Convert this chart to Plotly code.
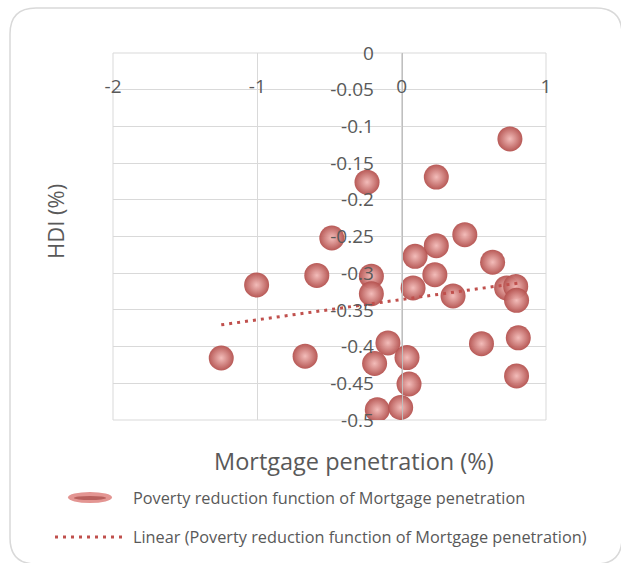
import numpy as np
import plotly.graph_objects as go

# Mortgage penetration (%) vs HDI (%) observations
mortgage_penetration = [
    0.75, -0.24, 0.24, -0.484, 0.4375, 0.24, 0.093, 0.63, -0.588, 0.23,
    -0.21, -1.005, 0.079, 0.727, 0.79, -0.21, 0.356, 0.796, -1.25, -0.669,
    -0.095, -0.1875, 0.037, 0.553, 0.808, 0.051, 0.796, -0.169, -0.007,
]
hdi = [
    -0.117, -0.176, -0.169, -0.252, -0.2475, -0.2625, -0.277, -0.285, -0.303, -0.302,
    -0.304, -0.316, -0.320, -0.320, -0.318, -0.328, -0.331, -0.337, -0.4155, -0.413,
    -0.395, -0.423, -0.415, -0.396, -0.388, -0.451, -0.440, -0.486, -0.483,
]

x_tick_vals = [-2, -1, 0, 1]
x_tick_text = ["-2", "-1", "0", "1"]
y_tick_vals = [0, -0.05, -0.1, -0.15, -0.2, -0.25, -0.3, -0.35, -0.4, -0.45, -0.5]
y_tick_text = ["0", "-0.05", "-0.1", "-0.15", "-0.2", "-0.25", "-0.3", "-0.35", "-0.4", "-0.45", "-0.5"]

series_name = "Poverty reduction function of Mortgage penetration"
trend_name = "Linear (Poverty reduction function of Mortgage penetration)"

FONT = "Open Sans"
TEXT = "#595959"
GRID = "#D9D9D9"
RED = "#C0504D"

W, H = 621, 563
M = dict(l=113, r=75, t=53, b=143)
PW = W - M["l"] - M["r"]
PH = H - M["t"] - M["b"]


def px(x):
    return (x - M["l"]) / PW


def py(y):
    return (H - M["b"] - y) / PH


# Least-squares trend line over the observed range
slope, intercept = np.polyfit(mortgage_penetration, hdi, 1)
tx = np.array([min(mortgage_penetration), max(mortgage_penetration)])
ty = slope * tx + intercept

fig = go.Figure()
fig.add_trace(go.Scatter(
    x=mortgage_penetration, y=hdi, mode="markers", name=series_name,
    marker=dict(size=25, color="#B4514E", opacity=0.95,
                gradient=dict(type="radial", color="#F2B9B6"),
                line=dict(width=0)),
    showlegend=False,
))
fig.add_trace(go.Scatter(
    x=tx, y=ty, mode="lines", name=trend_name,
    line=dict(color=RED, width=3, dash="3px,5px"),
    showlegend=False,
))

fig.update_xaxes(
    range=[-2, 1], tickvals=x_tick_vals, ticktext=x_tick_text,
    side="top", ticklabelposition="inside", ticklabeloverflow="allow",
    ticklabelstandoff=24, ticks="",
    showgrid=True, gridcolor=GRID, gridwidth=1, zeroline=False, showline=False,
    tickfont=dict(family=FONT, size=19, color=TEXT),
)
fig.update_yaxes(
    range=[-0.5, 0], tickvals=y_tick_vals, ticktext=y_tick_text,
    anchor="free", position=2 / 3, ticks="", ticklabelstandoff=24,
    showgrid=True, gridcolor=GRID, gridwidth=1, zeroline=False,
    showline=True, linecolor="#BFBFBF", linewidth=1,
    tickfont=dict(family=FONT, size=19, color=TEXT),
)

shapes = [
    # plot-area frame
    dict(type="rect", xref="paper", yref="paper", x0=0, y0=0, x1=1, y1=1,
         line=dict(color=GRID, width=1), layer="below"),
]

# rounded chart border
x0, y0, x1, y1, r = 10, 8, 622, 564, 26
path = (
    f"M {px(x0 + r)},{py(y0)} L {px(x1 - r)},{py(y0)} "
    f"Q {px(x1)},{py(y0)} {px(x1)},{py(y0 + r)} "
    f"L {px(x1)},{py(y1 - r)} Q {px(x1)},{py(y1)} {px(x1 - r)},{py(y1)} "
    f"L {px(x0 + r)},{py(y1)} Q {px(x0)},{py(y1)} {px(x0)},{py(y1 - r)} "
    f"L {px(x0)},{py(y0 + r)} Q {px(x0)},{py(y0)} {px(x0 + r)},{py(y0)} Z"
)
shapes.append(dict(type="path", xref="paper", yref="paper", path=path,
                   line=dict(color="#D9D9D9", width=1.5)))

# legend glyphs
shapes.append(dict(type="circle", xref="paper", yref="paper",
                   x0=px(68), x1=px(112), y0=py(503), y1=py(492),
                   fillcolor="#E39592", line=dict(width=0)))
shapes.append(dict(type="circle", xref="paper", yref="paper",
                   x0=px(74), x1=px(106), y0=py(500), y1=py(496),
                   fillcolor="#B8605D", line=dict(width=0)))
shapes.append(dict(type="line", xref="paper", yref="paper",
                   x0=px(55), x1=px(123), y0=py(537), y1=py(537),
                   line=dict(color=RED, width=3, dash="3px,5px")))

annotations = [
    dict(text="Mortgage penetration (%)", x=px(354), y=py(461), xref="paper", yref="paper",
         showarrow=False, xanchor="center", yanchor="middle",
         font=dict(family=FONT, size=23.5, color=TEXT)),
    dict(text="HDI (%)", x=px(55), y=py(222), xref="paper", yref="paper",
         showarrow=False, textangle=-90, xanchor="center", yanchor="middle",
         font=dict(family=FONT, size=22, color=TEXT)),
    dict(text=series_name, x=px(131), y=py(498), xref="paper", yref="paper",
         showarrow=False, xanchor="left", yanchor="middle",
         font=dict(family=FONT, size=16.3, color=TEXT)),
    dict(text=trend_name, x=px(131), y=py(537), xref="paper", yref="paper",
         showarrow=False, xanchor="left", yanchor="middle",
         font=dict(family=FONT, size=16.3, color=TEXT)),
]

fig.update_layout(
    width=W, height=H, margin=M,
    paper_bgcolor="white", plot_bgcolor="white",
    shapes=shapes, annotations=annotations, showlegend=False,
)

fig.write_html("out.html")
